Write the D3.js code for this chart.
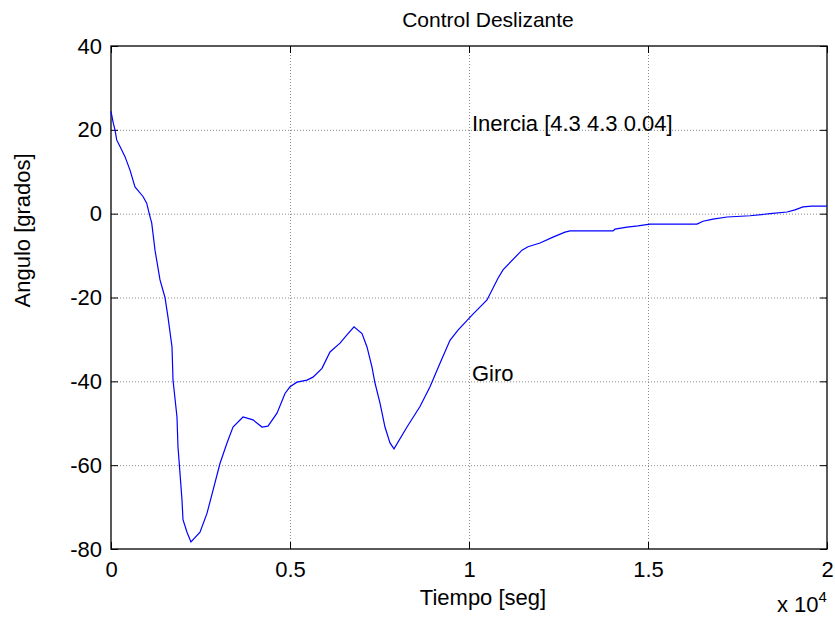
<!DOCTYPE html>
<html lang="es">
<head>
  <meta charset="UTF-8">
  <title>Control Deslizante</title>
  <style>
    body { margin: 0; background: #fff; font-family: Arial, "Liberation Sans", sans-serif; }
  </style>
  <script src="https://d3js.org/d3.v7.min.js"></script>
</head>
<body>
  <div id="chart"></div>
  <script>
    // tiempo [seg] y angulo [grados]
    const tiempo = [0, 64, 112, 159, 251, 391, 531, 670, 894, 997, 1089, 1137, 1229, 1369, 1508,
      1592, 1704, 1732, 1843, 1871, 1927, 1983, 2011, 2123, 2234, 2486, 2681, 2849, 3044, 3240,
      3408, 3687, 3966, 4218, 4385, 4637, 4860, 5000, 5195, 5475, 5642, 5894, 6117, 6397, 6620,
      6788, 7011, 7151, 7290, 7374, 7514, 7653, 7793, 7905, 8268, 8631, 8911, 9190, 9469, 9693,
      10084, 10503, 10810, 10950, 11480, 11648, 11983, 12346, 12682, 12821, 14022, 14078, 14413,
      14720, 15056, 16369, 16536, 16816, 17207, 17849, 18408, 18883, 19106, 19330, 19581, 20000];
    const angulo = [24.4, 21.6, 20, 17.6, 16, 13.6, 10.4, 6.4, 4.1, 2.5, -0.7, -2.2, -8.7, -15.8, -20,
      -24.7, -31.8, -39.7, -48.5, -55.6, -61.9, -68.3, -73, -76, -78.3, -76, -71.5, -66, -59.6, -54.7,
      -50.9, -48.5, -49.2, -50.9, -50.7, -47.6, -42.9, -41.3, -40.2, -39.7, -39, -36.9, -33, -30.9, -28.6,
      -27, -28.6, -31.8, -36.6, -40.4, -45.2, -50.9, -54.7, -56.1, -50.9, -46, -41.3, -35.7, -30.2, -27.8,
      -24.2, -20.6, -15.4, -13.4, -8.7, -7.9, -7.0, -5.6, -4.4, -4.1, -4.1, -3.7, -3.2,
      -2.9, -2.5, -2.5, -1.8, -1.3, -0.8, -0.5, 0, 0.4, 0.9, 1.6, 1.8, 1.8];

    const xTicks = [0, 5000, 10000, 15000, 20000];
    const yTicks = [-80, -60, -40, -20, 0, 20, 40];

    const W = 835, H = 623;
    const margin = { top: 46, right: 8, bottom: 74, left: 111 };

    const x = d3.scaleLinear().domain([0, 20000]).range([margin.left, W - margin.right]);
    const y = d3.scaleLinear().domain([-80, 40]).range([H - margin.bottom, margin.top]);

    const svg = d3.create("svg")
        .attr("width", W)
        .attr("height", H)
        .style("font-family", "Arial, 'Liberation Sans', sans-serif");

    svg.append("rect").attr("width", W).attr("height", H).attr("fill", "#fff");

    // rejilla
    const grid = svg.append("g")
        .attr("stroke", "#8a8a8a")
        .attr("stroke-width", 1)
        .attr("stroke-dasharray", "1,2");
    grid.selectAll(".gx").data(xTicks.slice(1, -1)).join("line")
        .attr("x1", d => x(d) + 0.5).attr("x2", d => x(d) + 0.5)
        .attr("y1", y(40)).attr("y2", y(-80));
    grid.selectAll(".gy").data(yTicks.slice(1, -1)).join("line")
        .attr("y1", d => y(d) + 0.5).attr("y2", d => y(d) + 0.5)
        .attr("x1", x(0)).attr("x2", x(20000));

    // ejes (marcas hacia dentro, como en MATLAB)
    const fmtX = d => String(d / 1e4);
    const fmtY = d => String(d);  // guion simple, no signo menos unicode
    const tick = 7;

    const axB = svg.append("g")
        .attr("transform", `translate(0,${y(-80)})`)
        .call(d3.axisBottom(x).tickValues(xTicks).tickFormat(fmtX).tickSizeInner(-tick).tickSizeOuter(0).tickPadding(12));
    const axT = svg.append("g")
        .attr("transform", `translate(0,${y(40)})`)
        .call(d3.axisTop(x).tickValues(xTicks).tickFormat("").tickSizeInner(-tick).tickSizeOuter(0));
    const axL = svg.append("g")
        .attr("transform", `translate(${x(0)},0)`)
        .call(d3.axisLeft(y).tickValues(yTicks).tickFormat(fmtY).tickSizeInner(-tick).tickSizeOuter(0).tickPadding(9));
    const axR = svg.append("g")
        .attr("transform", `translate(${x(20000)},0)`)
        .call(d3.axisRight(y).tickValues(yTicks).tickFormat("").tickSizeInner(-tick).tickSizeOuter(0));

    [axB, axT, axL, axR].forEach(a => {
      a.select(".domain").remove();
      a.selectAll("line").attr("stroke", "#000");
      a.selectAll("text").attr("fill", "#000").style("font-size", "22px");
    });
    axB.selectAll("text").attr("dy", "0.71em");

    svg.append("rect")
        .attr("x", x(0)).attr("y", y(40))
        .attr("width", x(20000) - x(0)).attr("height", y(-80) - y(40))
        .attr("fill", "none").attr("stroke", "#000").attr("stroke-width", 1.3);

    // curva
    const line = d3.line()
        .x((d, i) => x(tiempo[i]))
        .y(d => y(d));

    svg.append("path")
        .datum(angulo)
        .attr("fill", "none")
        .attr("stroke", "#0000ff")
        .attr("stroke-width", 1.2)
        .attr("d", line);

    // textos
    svg.append("text")
        .attr("x", x(10000) + 3).attr("y", y(21.5)).attr("dy", "0.35em")
        .style("font-size", "22px")
        .text("Inercia [4.3 4.3 0.04]");
    svg.append("text")
        .attr("x", x(10000) + 3).attr("y", y(-38)).attr("dy", "0.35em")
        .style("font-size", "22px")
        .text("Giro");

    svg.append("text")
        .attr("x", 488).attr("y", 27)
        .attr("text-anchor", "middle")
        .style("font-size", "21px")
        .text("Control Deslizante");

    svg.append("text")
        .attr("x", 483).attr("y", 605)
        .attr("text-anchor", "middle")
        .style("font-size", "22px")
        .text("Tiempo [seg]");

    svg.append("text")
        .attr("transform", `translate(30,${y(-4)}) rotate(-90)`)
        .attr("text-anchor", "middle")
        .style("font-size", "22px")
        .text("Angulo [grados]");

    const exp = svg.append("text")
        .attr("x", 777).attr("y", 612)
        .style("font-size", "22px");
    exp.append("tspan").text("x 10");
    exp.append("tspan").attr("dy", -10).style("font-size", "15px").text("4");

    document.getElementById("chart").appendChild(svg.node());
  </script>
</body>
</html>
